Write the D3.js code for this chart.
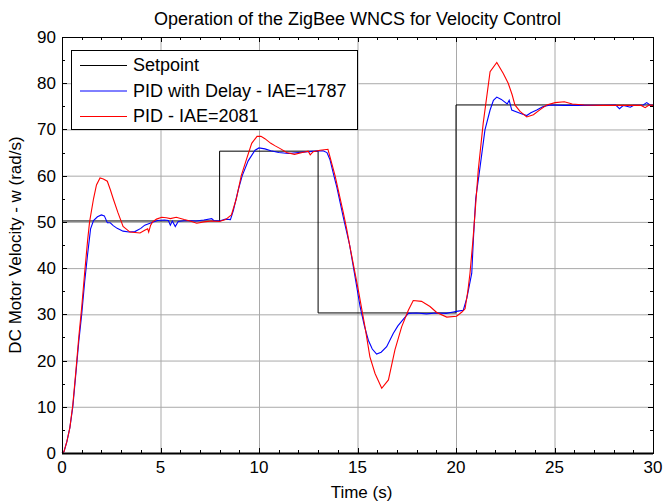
<!DOCTYPE html>
<html>
<head>
<meta charset="utf-8">
<script src="https://cdn.jsdelivr.net/npm/d3@7"></script>
<style>
  body { margin: 0; background: #fff; }
  text { font-family: "Liberation Sans", Arial, sans-serif; fill: #000; }
</style>
</head>
<body>
<div id="chart"></div>
<script>
// step setpoint: time the level starts, level value
var setpointTimes = [0, 8, 13.0, 20];
var setpointLevels = [50.2, 65.3, 30.3, 75.3];

// PID with Delay - IAE=1787 (t, w)
var pidDelay = [
  [0,0],[0.1,0.3],[0.25,2.5],[0.4,5.5],[0.55,10],[0.7,17],[0.85,24],[1.0,30],[1.15,37],[1.3,43],
  [1.45,48.5],[1.6,50.3],[1.8,51.1],[2.0,51.5],[2.15,51.3],[2.3,49.8],[2.45,49.8],[2.6,49.2],[2.8,48.6],
  [3.1,48.0],[3.4,47.8],[3.7,47.9],[4.0,48.6],[4.2,49.3],[4.4,49.6],[4.6,49.9],[4.85,50.3],[5.2,50.4],
  [5.4,50.3],[5.5,49.3],[5.6,50.2],[5.75,49.0],[5.9,50.1],[6.3,50.3],[6.8,50.2],[7.2,50.4],[7.6,50.7],
  [7.7,50.3],[8.0,50.2],[8.3,50.6],[8.55,50.5],[8.7,52.5],[8.95,57],[9.15,60],[9.45,63.2],[9.8,65.5],
  [10.0,66],[10.3,65.8],[10.6,65.4],[11.0,65.0],[11.5,64.8],[12.0,65.0],[12.5,65.2],[12.9,65.3],
  [13.25,65.4],[13.45,65.0],[13.6,63.5],[13.8,60],[13.95,57.5],[14.28,51],[14.6,45],[14.9,37.5],
  [15.13,31.7],[15.35,27.5],[15.55,24.4],[15.75,22.5],[15.97,21.4],[16.2,21.8],[16.48,23],[16.82,25.9],
  [17.05,27.5],[17.3,28.8],[17.58,30.2],[18.0,30.3],[18.5,30.1],[19.0,30.3],[19.5,30.2],[19.86,30.5],
  [20.1,30.7],[20.37,30.9],[20.55,33.5],[20.8,38.9],[20.88,46],[21.0,55],[21.2,61.2],[21.47,69.9],
  [21.73,74.2],[21.9,76.3],[22.07,77],[22.3,76.5],[22.6,75.5],[22.7,76.3],[22.83,74.2],[23.25,73.5],
  [23.59,73],[23.8,73.6],[24.1,74.2],[24.4,74.9],[24.78,75.3],[25.5,75.2],[26.5,75.2],[27.5,75.2],
  [28.1,75.3],[28.3,74.5],[28.5,75.2],[28.85,74.8],[29.0,75.2],[29.5,75.3],[29.68,75.8],[29.85,75.3],[30,75.2]
];

// PID - IAE=2081 (t, w)
var pidPlain = [
  [0,0],[0.1,0.3],[0.25,2.5],[0.4,5.5],[0.55,10.5],[0.7,17.5],[0.85,25],[1.0,31.5],[1.15,39],[1.3,46],
  [1.4,50],[1.6,55],[1.75,58],[1.93,59.5],[2.1,59.3],[2.3,58.8],[2.45,57],[2.6,55],[2.84,52],[3.1,49],
  [3.45,47.8],[3.96,47.6],[4.2,48.2],[4.35,48.5],[4.4,47.8],[4.5,49.3],[4.6,50],[4.8,50.6],[5.06,51],
  [5.3,50.9],[5.5,50.7],[5.8,51],[6.2,50.5],[6.5,50.2],[6.84,49.7],[7.2,50.0],[7.6,50.2],[8.0,50.1],
  [8.3,50.5],[8.6,51.5],[8.85,55],[9.1,60],[9.4,64],[9.63,67],[9.9,68.5],[10.1,68.5],[10.3,68],
  [10.6,67],[10.8,66.5],[11.1,65.8],[11.4,65],[11.8,64.6],[12.2,65],[12.5,65.3],[12.6,64.5],[12.75,65.2],
  [13.1,65.5],[13.5,65.7],[13.86,60],[14.28,52],[14.45,48.5],[14.6,45],[15.04,35.3],[15.38,27.3],
  [15.63,20.8],[15.89,17.2],[16.23,14],[16.57,15.8],[16.9,22.3],[17.24,27.3],[17.58,30.9],[17.83,33],
  [18.25,32.8],[18.68,31.7],[19.02,30.4],[19.53,29.4],[20.03,29.6],[20.3,30.5],[20.46,31.2],[20.6,35],
  [20.71,38.9],[20.86,46],[21.13,61.2],[21.38,71.3],[21.73,82.5],[22.07,84.5],[22.4,82.1],[22.65,80],
  [22.85,77.5],[22.99,75.3],[23.25,73.9],[23.59,72.7],[23.93,73.2],[24.27,74.3],[24.6,75.3],[25.03,75.8],
  [25.5,76],[25.9,75.5],[26.5,75.3],[27.5,75.2],[28.5,75.2],[29.4,75.2],[29.6,74.7],[29.8,75.3],[30,75.2]
];

var xTicks = [0, 5, 10, 15, 20, 25, 30];
var yTicks = [0, 10, 20, 30, 40, 50, 60, 70, 80, 90];
var legendNames = ["Setpoint", "PID with Delay - IAE=1787", "PID - IAE=2081"];

var width = 664, height = 502;
var margin = {top: 37, right: 11, bottom: 49, left: 62};
var w = width - margin.left - margin.right,
    h = height - margin.top - margin.bottom;

var svg = d3.select("#chart").append("svg")
    .attr("width", width)
    .attr("height", height);

var x = d3.scaleLinear().domain([0, 30]).range([0, w]);
var y = d3.scaleLinear().domain([0, 90]).range([h, 0]);

var plot = svg.append("g")
    .attr("transform", "translate(" + margin.left + "," + margin.top + ")");

// grid
plot.append("g").selectAll("line").data(xTicks.slice(1, -1)).enter().append("line")
    .attr("x1", d => x(d) + 0.5).attr("x2", d => x(d) + 0.5)
    .attr("y1", 0).attr("y2", h)
    .attr("stroke", "#a9a9a9").attr("stroke-width", 1);
plot.append("g").selectAll("line").data(yTicks.slice(1, -1)).enter().append("line")
    .attr("y1", d => y(d) + 0.5).attr("y2", d => y(d) + 0.5)
    .attr("x1", 0).attr("x2", w)
    .attr("stroke", "#a9a9a9").attr("stroke-width", 1);

// minor + major ticks, inward on all sides
var xMinor = d3.range(0, 31, 1), yMinor = d3.range(0, 91, 5);
function tickMarks(vals, horiz, len) {
  var g = plot.append("g").attr("stroke", "#000").attr("stroke-width", 1);
  vals.forEach(function(v) {
    if (horiz) {
      var px = Math.round(x(v)) + 0.5;
      g.append("line").attr("x1", px).attr("x2", px).attr("y1", h).attr("y2", h - len);
      g.append("line").attr("x1", px).attr("x2", px).attr("y1", 0).attr("y2", len);
    } else {
      var py = Math.round(y(v)) + 0.5;
      g.append("line").attr("y1", py).attr("y2", py).attr("x1", 0).attr("x2", len);
      g.append("line").attr("y1", py).attr("y2", py).attr("x1", w).attr("x2", w - len);
    }
  });
}
tickMarks(xMinor, true, 3);
tickMarks(xTicks, true, 5);
tickMarks(yMinor, false, 3);
tickMarks(yTicks, false, 5);

// tick labels
plot.append("g").selectAll("text").data(xTicks).enter().append("text")
    .attr("x", d => x(d)).attr("y", h + 20)
    .attr("text-anchor", "middle").style("font-size", "17px")
    .text(d => d);
plot.append("g").selectAll("text").data(yTicks).enter().append("text")
    .attr("x", -6).attr("y", d => y(d) + 6)
    .attr("text-anchor", "end").style("font-size", "17px")
    .text(d => d);

// setpoint steps
var setPts = setpointTimes.map((t, i) => [t, setpointLevels[i]]);
setPts.push([x.domain()[1], setpointLevels[setpointLevels.length - 1]]);

var stepLine = d3.line().x(d => x(d[0])).y(d => y(d[1])).curve(d3.curveStepAfter);
var line = d3.line().x(d => x(d[0])).y(d => y(d[1]));

plot.append("path").datum(setPts).attr("d", stepLine)
    .attr("fill", "none").attr("stroke", "#000").attr("stroke-width", 1);
plot.append("path").datum(pidDelay).attr("d", line)
    .attr("fill", "none").attr("stroke", "#0000ff").attr("stroke-width", 1.1);
plot.append("path").datum(pidPlain).attr("d", line)
    .attr("fill", "none").attr("stroke", "#ff0000").attr("stroke-width", 1.1);

// box
plot.append("rect").attr("x", 0.5).attr("y", 0.5).attr("width", w).attr("height", h)
    .attr("fill", "none").attr("stroke", "#000").attr("stroke-width", 1);
plot.append("line").attr("x1", 0).attr("x2", w).attr("y1", h + 0.5).attr("y2", h + 0.5)
    .attr("stroke", "#000").attr("stroke-width", 2);

// legend
var legend = svg.append("g").attr("transform", "translate(71,50)");
legend.append("rect").attr("x", 0.5).attr("y", 0.5).attr("width", 286).attr("height", 79)
    .attr("fill", "#fff").attr("stroke", "#000");
var legendColors = ["#000", "#0000ff", "#ff0000"];
legendNames.forEach(function(name, i) {
  var yy = 15 + i * 25.5;
  legend.append("line").attr("x1", 9).attr("x2", 56).attr("y1", yy + 0.5).attr("y2", yy + 0.5)
      .attr("stroke", legendColors[i]).attr("stroke-width", 1);
  legend.append("text").attr("x", 62).attr("y", yy + 6).style("font-size", "18px").text(name);
});

// titles
svg.append("text").attr("x", margin.left + w / 2).attr("y", 25)
    .attr("text-anchor", "middle").style("font-size", "18px")
    .text("Operation of the ZigBee WNCS for Velocity Control");
svg.append("text").attr("x", margin.left + w / 2 + 4).attr("y", 498)
    .attr("text-anchor", "middle").style("font-size", "17px")
    .text("Time (s)");
svg.append("text")
    .attr("transform", "translate(21," + (margin.top + h / 2) + ") rotate(-90)")
    .attr("text-anchor", "middle").style("font-size", "17px")
    .text("DC Motor Velocity - w (rad/s)");
</script>
</body>
</html>
